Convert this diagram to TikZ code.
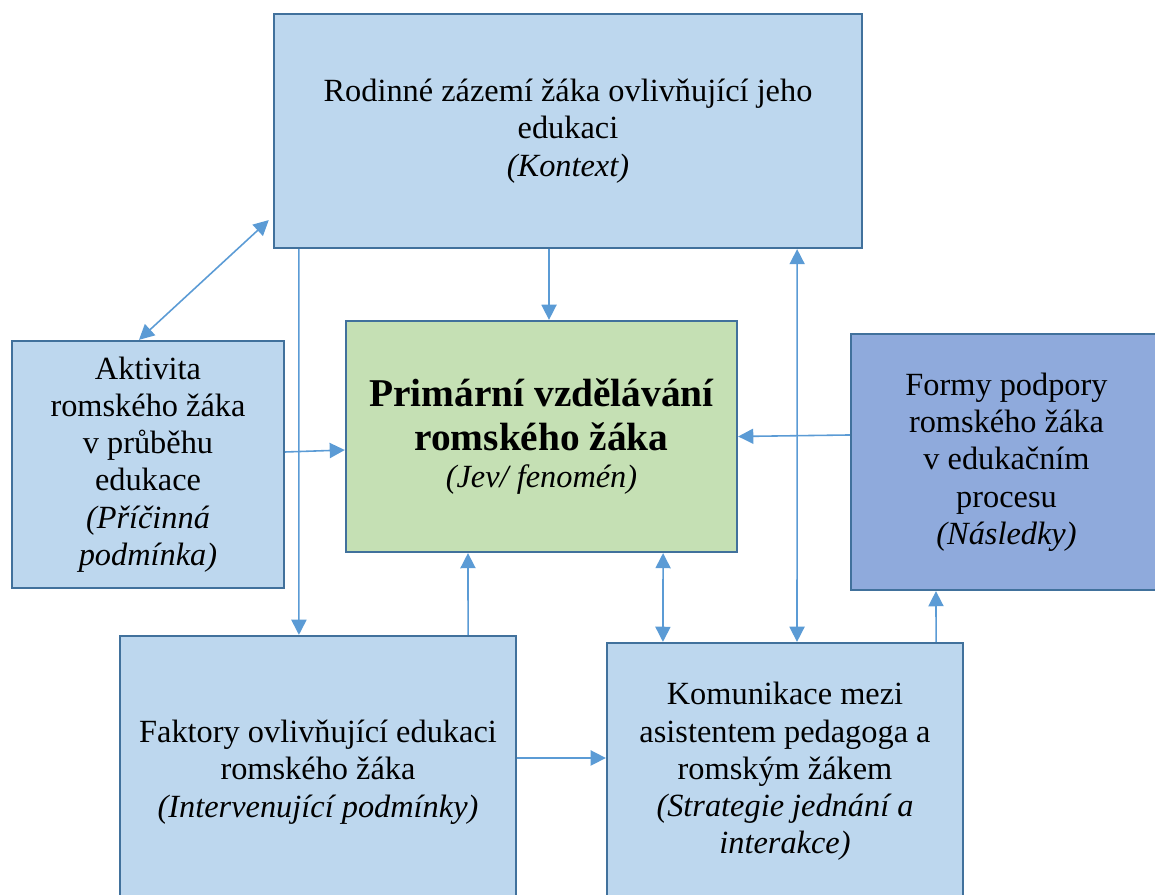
\documentclass[tikz,border=0pt]{standalone}
\usepackage{fontspec}
\setmainfont{Liberation Serif}
\usepackage{tikz}
\usetikzlibrary{arrows.meta, positioning, calc}
\definecolor{ramecek}{HTML}{41719C}
\definecolor{modra}{HTML}{BDD7EE}
\definecolor{zelena}{HTML}{C5E0B4}
\definecolor{tmavamodra}{HTML}{8FAADC}
\definecolor{sipka}{HTML}{5B9BD5}
\newcommand{\tucne}[1]{{\fontsize{11.2}{12.8}\selectfont\bfseries #1}}

\begin{document}
\begin{tikzpicture}[x=0.01cm, y=-0.01cm,
    blok/.style={draw=ramecek, line width=0.6pt, fill=modra, align=center, inner sep=0pt,
        font=\fontsize{9.2}{10.6}\selectfont},
    sip/.style={draw=sipka, line width=0.45pt, -{Triangle[length=4.3pt,width=4.3pt]}},
    obousip/.style={sip, {Triangle[length=4.3pt,width=4.3pt]}-{Triangle[length=4.3pt,width=4.3pt]}}] % Styly

    % Rozmer obrazku
    \useasboundingbox (0,0) rectangle (1155,895);
    \clip (0,0) rectangle (1155,895);

    % Bloky
    \node[blok, minimum width=5.88cm, minimum height=2.34cm] (kontext) at (568,131)
        {Rodinné zázemí žáka ovlivňující jeho\\ edukaci\\ \textit{(Kontext)}};
    \node[blok, minimum width=2.72cm, minimum height=2.47cm] (aktivita) at (148,464.5)
        {Aktivita\\ romského žáka\\ v průběhu\\ edukace\\ \textit{(Příčinná}\\ \textit{podmínka)}};
    \node[blok, fill=zelena, minimum width=3.91cm, minimum height=2.31cm] (jev) at (541.5,436.5)
        {\tucne{Primární vzdělávání}\\[2pt] \tucne{romského žáka}\\ \textit{(Jev/ fenomén)}};
    \node[blok, fill=tmavamodra, minimum width=3.11cm, minimum height=2.56cm] (nasledky) at (1006.5,462)
        {Formy podpory\\ romského žáka\\ v edukačním\\ procesu\\ \textit{(Následky)}};
    \node[blok, minimum width=3.96cm, minimum height=2.72cm] (faktory) at (318,772)
        {Faktory ovlivňující edukaci\\ romského žáka\\ \textit{(Intervenující podmínky)}};
    \node[blok, minimum width=3.56cm, minimum height=2.57cm] (komunikace) at (785,771.5)
        {Komunikace mezi\\ asistentem pedagoga a\\ romským žákem\\ \textit{(Strategie jednání a}\\ \textit{interakce)}};

    % Sipky
    \draw[obousip] ([yshift=0.29cm,xshift=-0.04cm]kontext.south west) -- ([xshift=-0.09cm]aktivita.north);
    \draw[sip] ([xshift=0.26cm]kontext.south west) -- ([xshift=1.8cm]faktory.north west);
    \draw[sip] ([xshift=-0.19cm]kontext.south) -- ([xshift=0.075cm]jev.north);
    \draw[obousip] ([xshift=2.29cm]kontext.south) -- ([xshift=0.12cm]komunikace.north);
    \draw[sip] ([yshift=0.125cm]aktivita.east) -- ([yshift=-0.135cm]jev.west);
    \draw[sip] ([yshift=0.27cm]nasledky.west) -- (jev.east);
    \draw[sip] ([xshift=1.5cm]faktory.north) -- ([xshift=-0.735cm]jev.south);
    \draw[obousip] ([xshift=1.215cm]jev.south) -- ([xshift=-1.22cm]komunikace.north);
    \draw[sip] ([yshift=0.14cm]faktory.east) -- ([yshift=0.135cm]komunikace.west);
    \draw[sip] ([xshift=1.51cm]komunikace.north) -- ([xshift=-0.705cm]nasledky.south);

\end{tikzpicture}
\end{document}
